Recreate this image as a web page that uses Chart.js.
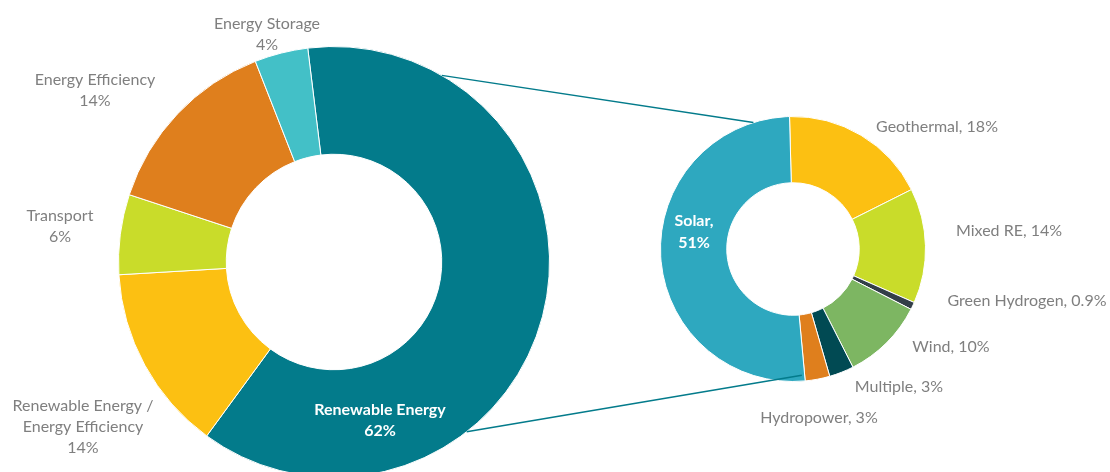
<!DOCTYPE html>
<html lang="en">
<head>
    <meta charset="UTF-8">
    <title>Funding by Sector</title>
    <script src="https://cdn.jsdelivr.net/npm/chart.js"></script>
    <style>
        html, body {
            margin: 0;
            padding: 0;
            width: 1110px;
            height: 472px;
            overflow: hidden;
            background: #fff;
        }
        .box {
            position: absolute;
            top: 0;
        }
        #left { left: 0; }
        #right { left: 560px; }
        #lines {
            position: absolute;
            left: 0;
            top: 0;
            pointer-events: none;
        }
    </style>
</head>

<body>
    <div class="box" id="left"><canvas id="mainChart" width="560" height="500"></canvas></div>
    <div class="box" id="right"><canvas id="subChart" width="550" height="472"></canvas></div>
    <canvas id="lines" width="1110" height="472"></canvas>

    <script>
        // Main split by sector
        var sectorNames = ["Renewable Energy", "Renewable Energy /\nEnergy Efficiency", "Transport", "Energy Efficiency", "Energy Storage"];
        var sectorValues = [62, 14, 6, 14, 4];
        var sectorColors = ["#037b8b", "#fcc012", "#c9dc2a", "#df7f1d", "#43c0c7"];

        // Renewable energy broken down
        var reNames = ["Geothermal", "Mixed RE", "Green Hydrogen", "Wind", "Multiple", "Hydropower", "Solar"];
        var reValues = [18, 14, 0.9, 10, 3, 3, 51];
        var reColors = ["#fcc012", "#c9dc2a", "#333f48", "#7db662", "#014a53", "#df7f1d", "#2ea8bf"];

        // where each label sits, relative to the doughnut centre
        var sectorLabelPos = [[46, 158], [-251, 165], [-274, -36], [-239, -172], [-67, -228]];
        var reLabelPos = [[144, -122], [216, -18], [234, 52], [158, 98], [106, 138], [26, 169], [-99, -17]];

        var FONT = "Lato, 'Open Sans', sans-serif";

        // Draw the data labels (no datalabels plugin available)
        var sliceLabels = {
            id: 'sliceLabels',
            afterDatasetsDraw: function (chart, args, opts) {
                var ctx = chart.ctx;
                var arc = chart.getDatasetMeta(0).data[0];
                ctx.save();
                ctx.textAlign = 'center';
                ctx.textBaseline = 'middle';
                opts.texts.forEach(function (text, i) {
                    var lines = text.split('\n');
                    var inside = i === opts.inside;
                    ctx.font = (inside ? 'bold ' : '') + opts.size + 'px ' + FONT;
                    ctx.fillStyle = inside ? '#ffffff' : '#7f7f7f';
                    var p = opts.pos[i];
                    var y0 = arc.y + p[1] - (lines.length - 1) * opts.lineHeight / 2;
                    lines.forEach(function (line, k) {
                        ctx.fillText(line, arc.x + p[0], y0 + k * opts.lineHeight);
                    });
                });
                ctx.restore();
            }
        };

        var mainTexts = sectorNames.map(function (n, i) { return n + '\n' + sectorValues[i] + '%'; });
        var subTexts = reNames.map(function (n, i) {
            return n + (i === 6 ? ',\n' : ', ') + reValues[i] + '%';
        });

        var mainChart = new Chart(document.getElementById('mainChart').getContext('2d'), {
            type: 'doughnut',
            data: {
                labels: sectorNames,
                datasets: [{
                    data: sectorValues,
                    backgroundColor: sectorColors,
                    borderColor: '#ffffff',
                    borderWidth: 1,
                    hoverOffset: 0
                }]
            },
            options: {
                responsive: false,
                animation: false,
                events: [],
                cutout: '50%',
                rotation: -7,
                layout: { padding: { left: 118, right: 10, top: 46, bottom: 22 } },
                plugins: {
                    legend: { display: false },
                    tooltip: { enabled: false },
                    sliceLabels: { texts: mainTexts, pos: sectorLabelPos, inside: 0, size: 16, lineHeight: 21 }
                }
            },
            plugins: [sliceLabels]
        });

        var subChart = new Chart(document.getElementById('subChart').getContext('2d'), {
            type: 'doughnut',
            data: {
                labels: reNames,
                datasets: [{
                    data: reValues,
                    backgroundColor: reColors,
                    borderColor: '#ffffff',
                    borderWidth: 1,
                    hoverOffset: 0
                }]
            },
            options: {
                responsive: false,
                animation: false,
                events: [],
                cutout: '50%',
                rotation: -1.5,
                layout: { padding: { left: 100, right: 184, top: 116, bottom: 90 } },
                plugins: {
                    legend: { display: false },
                    tooltip: { enabled: false },
                    sliceLabels: { texts: subTexts, pos: reLabelPos, inside: 6, size: 16, lineHeight: 22 }
                }
            },
            plugins: [sliceLabels]
        });

        // Series lines from the big ring to the small one
        function edgePoint(arc, deg, scale, offX) {
            var t = deg * Math.PI / 180;
            var r = arc.outerRadius * scale;
            return [offX + arc.x + r * Math.sin(t), arc.y - r * Math.cos(t)];
        }

        function drawConnectors() {
            var a = mainChart.getDatasetMeta(0).data[0];
            var b = subChart.getDatasetMeta(0).data[0];
            var ctx = document.getElementById('lines').getContext('2d');
            var pairs = [
                [edgePoint(a, 30, 1, 0), edgePoint(b, -17.4, 1, 560)],
                [edgePoint(a, 142, 1, 0), edgePoint(b, 176, 0.955, 560)]
            ];
            ctx.strokeStyle = '#037b8b';
            ctx.lineWidth = 1.5;
            pairs.forEach(function (p) {
                ctx.beginPath();
                ctx.moveTo(p[0][0], p[0][1]);
                ctx.lineTo(p[1][0], p[1][1]);
                ctx.stroke();
            });
        }
        drawConnectors();
    </script>
</body>
</html>
